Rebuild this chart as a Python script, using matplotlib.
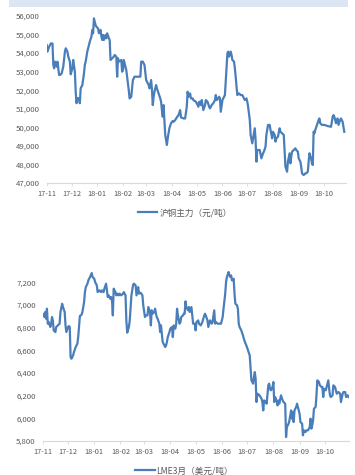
import numpy as np
import pandas as pd
import matplotlib
matplotlib.use("Agg")
import matplotlib.pyplot as plt
import matplotlib.dates as mdates
from matplotlib.ticker import FuncFormatter, MultipleLocator
from matplotlib.patches import Rectangle

plt.rcParams['font.family'] = ['Noto Sans CJK SC', 'DejaVu Sans']

START = pd.Timestamp('2017-11-01')

# SHFE copper main contract, days since 2017-11-01 / price (CNY per tonne)
cu_day = [0, 1, 3, 5, 7, 8, 9, 10, 12, 13, 15, 16, 18, 20, 22, 23, 25, 26, 28, 29,
          31, 32, 34, 35, 36, 37, 39, 40, 41, 43, 45, 46, 47, 49, 51, 52, 54, 55, 56, 57,
          59, 60, 62, 63, 65, 66, 67, 68, 69, 71, 72, 73, 75, 76, 77, 79, 81, 82, 84, 85,
          86, 87, 90, 91, 92, 93, 96, 97, 99, 100, 102, 104, 106, 108, 112, 113, 114, 116, 118, 120,
          121, 123, 124, 126, 127, 128, 129, 130, 132, 133, 135, 137, 138, 139, 140, 141, 142, 143, 145, 146,
          148, 150, 152, 153, 155, 157, 159, 161, 162, 165, 167, 169, 170, 171, 173, 174, 176, 177, 180, 181,
          183, 184, 186, 187, 189, 191, 192, 194, 196, 197, 199, 201, 203, 204, 205, 207, 208, 209, 210, 212,
          213, 215, 216, 218, 219, 220, 222, 223, 224, 226, 227, 228, 229, 230, 232, 234, 236, 237, 239, 241,
          242, 243, 245, 246, 248, 249, 251, 252, 253, 254, 256, 257, 259, 261, 262, 264, 265, 267, 269, 270,
          272, 273, 275, 276, 277, 279, 281, 282, 284, 286, 287, 288, 290, 291, 293, 294, 295, 296, 298, 300,
          301, 303, 304, 306, 307, 308, 310, 312, 313, 315, 316, 317, 319, 320, 321, 322, 323, 324, 326, 328,
          329, 330, 332, 335, 339, 343, 345, 346, 347, 349, 350, 351, 352, 354, 355, 357, 358, 359]
cu_price = [54440, 54080, 54350, 54520, 54520, 53360, 53180, 53540, 53270, 53540, 52820, 52820, 52900, 53270, 54080, 54260, 54080, 53820, 53540, 52860,
            53180, 53630, 53000, 51920, 51300, 51570, 51570, 51300, 52100, 52280, 52900, 53360, 53540, 54080, 54440, 54620, 54890, 55250, 55070, 55870,
            55510, 55420, 55330, 55070, 55250, 54890, 54710, 54980, 54710, 54980, 54800, 55070, 54800, 54710, 53630, 53720, 53810, 53900, 53810, 52730,
            53720, 53540, 53630, 53000, 53090, 53630, 53090, 52730, 52010, 51560, 51650, 52550, 52730, 52730, 52730, 52730, 53540, 53540, 53360, 52550,
            52460, 52280, 52100, 52550, 52010, 51200, 51650, 51920, 52280, 52100, 51830, 51560, 51380, 50930, 50570, 51200, 50390, 49590, 49050, 49410,
            49950, 50220, 50340, 50300, 50390, 50540, 50660, 50930, 50540, 50480, 50480, 51110, 51920, 51650, 51830, 51560, 51560, 51470, 51380, 51300,
            51110, 51380, 51200, 51470, 50930, 51200, 51470, 51380, 51110, 51020, 51200, 51300, 51470, 51740, 51470, 51560, 51650, 51560, 50840, 51470,
            51560, 51740, 52460, 53990, 54080, 53810, 54080, 53900, 53630, 53540, 53180, 52730, 52190, 51740, 51830, 51740, 51740, 51650, 51470, 51560,
            51380, 51110, 50390, 49590, 49140, 49410, 49950, 49320, 48150, 48780, 48780, 48780, 48330, 48600, 48690, 48960, 49590, 50130, 50130, 49860,
            49410, 49760, 49590, 49230, 49410, 49500, 49950, 49760, 49680, 49590, 48780, 47880, 47610, 48150, 48600, 48060, 48420, 48690, 48780, 48870,
            48780, 48690, 48330, 48150, 47880, 47520, 47430, 47520, 47520, 47610, 48150, 48600, 48330, 48060, 47970, 49770, 49680, 49860, 50130, 50390,
            50480, 50220, 50130, 50130, 50070, 50030, 50570, 50660, 50570, 50220, 50390, 50480, 50130, 50390, 50480, 50300, 50030, 49760]

# LME 3-month copper, days since 2017-11-01 / price (USD per tonne)
lme_day = [0, 2, 3, 4, 5, 6, 7, 9, 10, 11, 12, 13, 15, 16, 18, 20, 21, 23, 24, 26,
           27, 28, 30, 31, 32, 33, 34, 36, 37, 39, 41, 42, 43, 44, 46, 47, 49, 50, 51, 53,
           54, 56, 58, 59, 61, 62, 64, 65, 67, 69, 70, 72, 73, 75, 76, 77, 78, 80, 81, 82,
           83, 84, 86, 87, 88, 90, 91, 93, 95, 96, 98, 99, 100, 102, 103, 105, 107, 108, 110, 111,
           113, 114, 116, 118, 119, 121, 122, 124, 125, 127, 128, 129, 130, 132, 133, 134, 135, 136, 138, 139,
           140, 141, 142, 144, 145, 146, 147, 148, 150, 151, 153, 154, 155, 157, 158, 159, 160, 162, 163, 164,
           166, 167, 168, 169, 170, 172, 173, 174, 176, 177, 178, 180, 181, 182, 184, 185, 187, 189, 190, 192,
           193, 195, 196, 198, 200, 201, 203, 204, 205, 207, 209, 211, 213, 214, 216, 217, 218, 220, 221, 222,
           223, 224, 226, 227, 228, 230, 231, 232, 233, 235, 237, 238, 240, 241, 243, 245, 246, 247, 249, 250,
           251, 252, 253, 254, 256, 257, 259, 260, 261, 262, 264, 265, 267, 268, 269, 270, 272, 273, 274, 275,
           276, 278, 279, 280, 282, 284, 285, 287, 288, 289, 291, 292, 294, 295, 296, 297, 298, 300, 301, 302,
           304, 305, 307, 308, 309, 311, 312, 314, 316, 317, 318, 319, 320, 321, 323, 324, 325, 327, 328, 330,
           331, 332, 333, 335, 336, 338, 339, 340, 341, 343, 344, 346, 347, 348, 350, 352, 353, 355, 356, 358,
           359, 361, 362]
lme_price = [6923, 6894, 6938, 6879, 6967, 6835, 6850, 6806, 6835, 6894, 6864, 6776, 6761, 6806, 6820, 6835, 6938, 7011, 6982, 6938,
             6820, 6761, 6806, 6814, 6806, 6541, 6526, 6556, 6585, 6629, 6658, 6717, 6806, 6903, 6914, 6938, 7026, 7114, 7158, 7188,
             7217, 7247, 7282, 7247, 7232, 7203, 7173, 7114, 7129, 7114, 7129, 7114, 7144, 7188, 7129, 7070, 7085, 7055, 7070, 7041,
             6908, 7144, 7114, 7085, 7100, 7085, 7100, 7085, 7100, 7114, 7085, 6864, 6756, 6806, 6864, 7085, 7179, 7188, 7173, 7085,
             7158, 7100, 7108, 7085, 6997, 6894, 6908, 6908, 6982, 6938, 6820, 6953, 6923, 6938, 6967, 6923, 6894, 6879, 6835, 6761,
             6820, 6747, 6673, 6644, 6629, 6644, 6673, 6717, 6761, 6791, 6806, 6717, 6820, 6791, 6835, 6967, 6908, 6835, 6850, 6894,
             6908, 6923, 6923, 7032, 6982, 6953, 6982, 6938, 6982, 6908, 6835, 6835, 6776, 6850, 6864, 6835, 6820, 6850, 6879, 6923,
             6908, 6864, 6806, 6864, 6835, 6850, 6953, 6835, 6850, 6835, 6835, 6835, 6894, 6967, 7100, 7203, 7247, 7291, 7261, 7247,
             7261, 7217, 7232, 7100, 7011, 6997, 6967, 6835, 6806, 6776, 6732, 6703, 6660, 6644, 6600, 6555, 6438, 6335, 6306, 6364,
             6408, 6350, 6144, 6217, 6208, 6197, 6173, 6144, 6070, 6158, 6144, 6129, 6291, 6306, 6261, 6247, 6276, 6320, 6144, 6188,
             6173, 6114, 6158, 6129, 6203, 6158, 6144, 6129, 5835, 5923, 5953, 5982, 6070, 5997, 6056, 5967, 6070, 6100, 6129, 6100,
             6041, 5967, 5953, 5850, 5894, 5879, 5894, 5894, 5923, 5997, 5909, 5938, 5982, 6085, 6100, 6203, 6335, 6320, 6291, 6276,
             6276, 6188, 6261, 6247, 6276, 6335, 6261, 6203, 6188, 6203, 6291, 6276, 6247, 6217, 6232, 6217, 6144, 6217, 6232, 6232,
             6188, 6203, 6188]

cu_label = '沪铜主力（元/吨）'
lme_label = 'LME3月（美元/吨）'

LINE = '#4A7EBB'
TEXT = '#595959'
AXIS = '#D9D9D9'


def to_dates(days):
    return START + pd.to_timedelta(np.asarray(days), unit='D')


def style_axis(ax, ylo, yhi, ystep, xend):
    ax.set_ylim(ylo, yhi)
    ax.set_xlim(START, START + pd.Timedelta(days=xend))
    ax.yaxis.set_major_locator(MultipleLocator(ystep))
    ax.yaxis.set_major_formatter(FuncFormatter(lambda v, p: f'{v:,.0f}'))
    ax.xaxis.set_major_locator(mdates.MonthLocator())
    ax.xaxis.set_major_formatter(mdates.DateFormatter('%y-%m'))
    for side in ['top', 'right', 'left']:
        ax.spines[side].set_visible(False)
    ax.spines['bottom'].set_color(AXIS)
    ax.spines['bottom'].set_linewidth(0.8)
    ax.tick_params(axis='y', length=0, pad=5, labelsize=5.6, labelcolor=TEXT)
    ax.tick_params(axis='x', length=2.5, width=0.6, color=AXIS, pad=2.5,
                   labelsize=5.3, labelcolor=TEXT)


fig = plt.figure(figsize=(3.55, 4.75), dpi=100)

# header band across the top
fig.patches.append(Rectangle((9 / 355, 1 - 6.5 / 475), 339 / 355, 6.5 / 475,
                             transform=fig.transFigure, facecolor='#DCE6F2',
                             edgecolor='none'))

ax1 = fig.add_axes([0.1315, 0.6147, 0.843, 0.3516])
ax1.plot(to_dates(cu_day), cu_price, color=LINE, lw=1.6, label=cu_label)
style_axis(ax1, 47000, 56000, 1000, 361)
ax1.legend(loc='center', bbox_to_anchor=(0.521, 0.5516), bbox_transform=fig.transFigure,
           frameon=False, fontsize=6.2, labelcolor=TEXT, handlelength=2.3,
           handletextpad=0.3, borderaxespad=0, borderpad=0)

ax2 = fig.add_axes([0.1203, 0.0716, 0.8628, 0.3579])
ax2.plot(to_dates(lme_day), lme_price, color=LINE, lw=1.6, label=lme_label)
style_axis(ax2, 5800, 7300, 200, 362.5)
ax2.legend(loc='center', bbox_to_anchor=(0.518, 0.0085), bbox_transform=fig.transFigure,
           frameon=False, fontsize=6.2, labelcolor=TEXT, handlelength=2.3,
           handletextpad=0.1, borderaxespad=0, borderpad=0)

fig.savefig('out.png', dpi=100)
